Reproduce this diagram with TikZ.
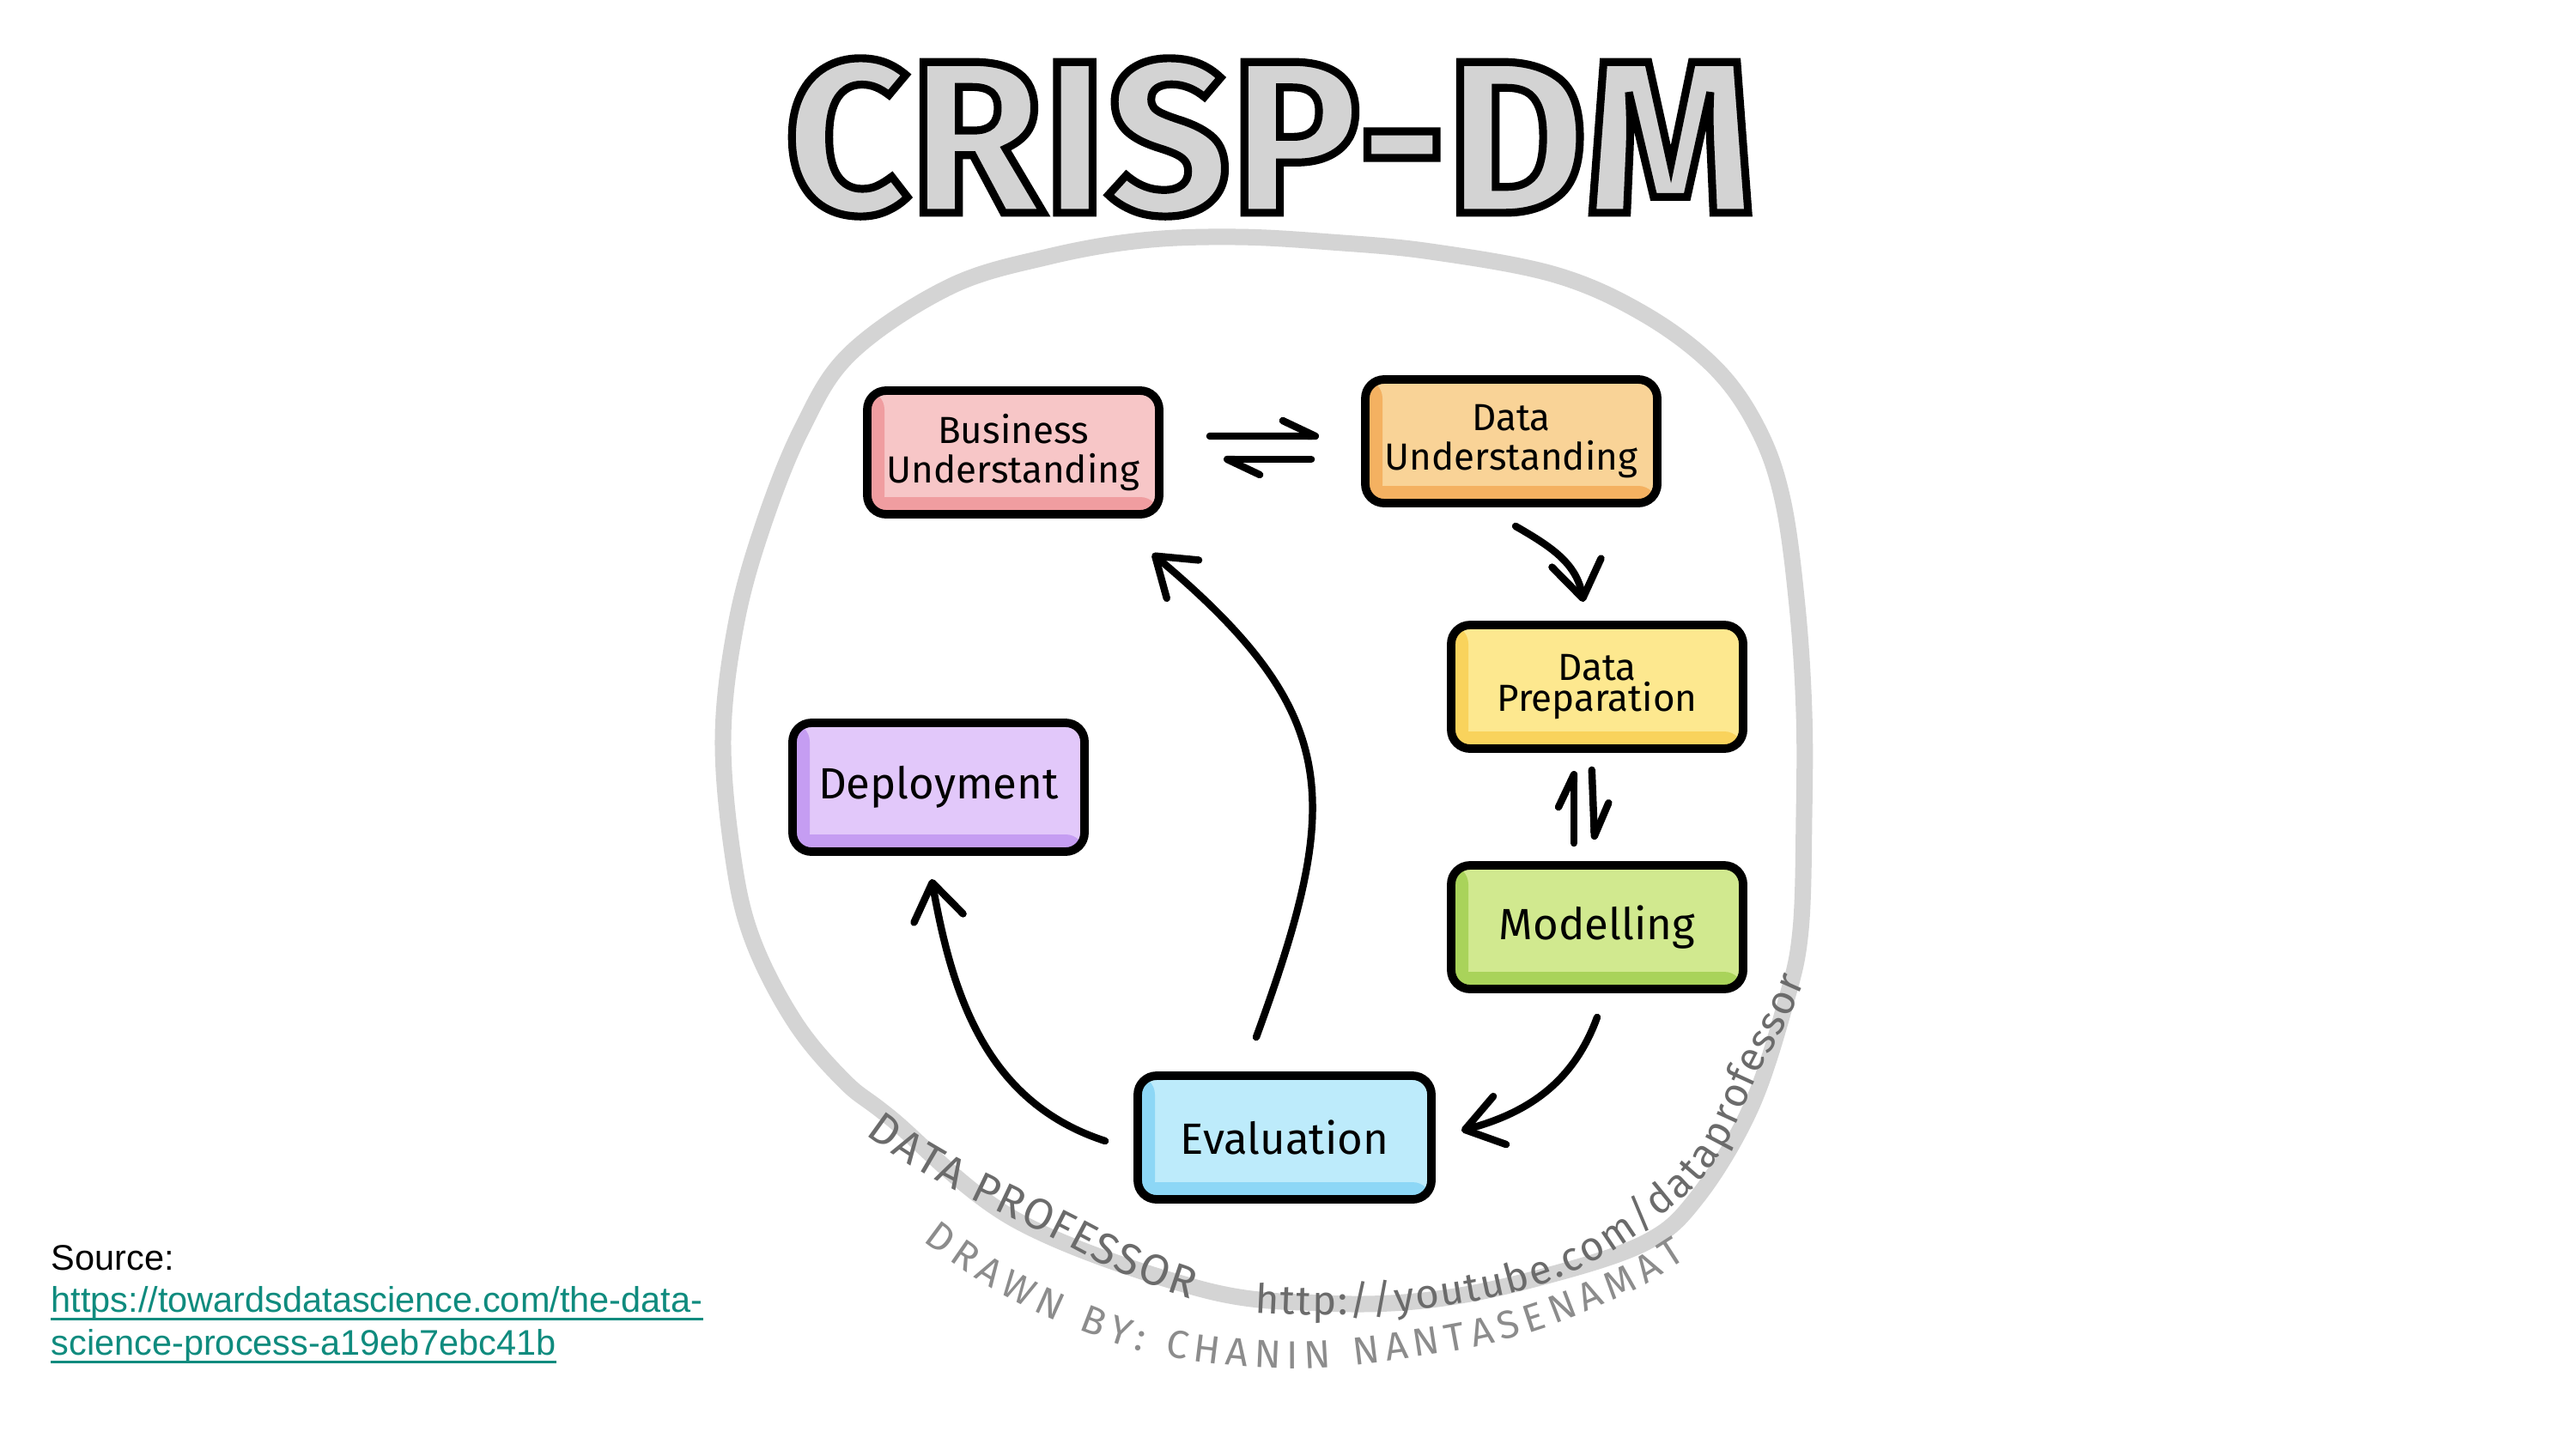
\documentclass[tikz,border=0pt]{standalone}
\usepackage{fontspec}
\usepackage{graphicx}
\setmainfont{Fira Sans}
\newfontfamily\titlefont{Fira Sans}
\newfontfamily\srcfont{Liberation Sans}
\usetikzlibrary{arrows.meta,decorations.text}
\newcommand{\outlined}[1]{\special{pdf:literal direct 0 0 0 RG 2.6 w 2 Tr}#1\special{pdf:literal direct 0 Tr}}

\definecolor{ringgray}{HTML}{D4D4D4}
\definecolor{titlegray}{HTML}{D3D3D3}
\definecolor{inkgray}{HTML}{6B6B6B}
\definecolor{lightink}{HTML}{8C8C8C}
\definecolor{linkteal}{HTML}{0F8B7E}
\definecolor{bupink}{HTML}{F7C6C7}
\definecolor{bushade}{HTML}{F09DA0}
\definecolor{duorange}{HTML}{F9D397}
\definecolor{dushade}{HTML}{F4B161}
\definecolor{dpyellow}{HTML}{FDE88F}
\definecolor{dpshade}{HTML}{F9D35C}
\definecolor{mogreen}{HTML}{D1E98F}
\definecolor{moshade}{HTML}{A9D35A}
\definecolor{evblue}{HTML}{BDEBFB}
\definecolor{evshade}{HTML}{8DD7F6}
\definecolor{depurple}{HTML}{E2C8FA}
\definecolor{deshade}{HTML}{C59DF2}

\begin{document}
\begin{tikzpicture}[
  stage/.style 2 args={draw,line width=2.8pt,rounded corners=0.22cm,fill=#1,
    minimum width=3.4cm,minimum height=1.44cm,align=center,inner sep=0pt,
    font=\fontsize{12.5}{13}\selectfont,
    path picture={
      \fill[#2] (path picture bounding box.south west) rectangle ([xshift=0.2cm]path picture bounding box.north west);
      \fill[#2] (path picture bounding box.south west) rectangle ([yshift=0.2cm]path picture bounding box.south east);}},
  big/.style={font=\fontsize{14.5}{15}\selectfont},
  flow/.style={-{Straight Barb[length=0.42cm,width=0.58cm,round]},line width=2.4pt,line cap=round},
  harp/.style={-{Straight Barb[harpoon,length=0.38cm,width=0.36cm,round]},line width=2.4pt,line cap=round},
  ring/.style={draw=ringgray,line width=0.19cm},
  srctext/.style={inner sep=0pt,anchor=base west,font=\srcfont\fontsize{11.8}{14}\selectfont},
]
  \path[use as bounding box,fill=white] (0,0) rectangle (30,-16.88);

  \draw[ring] plot[smooth cycle,tension=0.6] coordinates {
    (13.30,-2.80) (14.40,-2.76) (15.50,-2.82) (16.66,-2.93) (18.11,-3.20) (19.15,-3.66) (19.97,-4.28)
    (20.47,-4.99) (20.76,-5.82) (20.93,-7.06) (21.01,-8.30) (21.01,-9.50) (20.97,-10.83)
    (20.80,-11.66) (20.39,-12.90) (19.77,-13.94) (19.15,-14.48) (17.90,-14.89) (16.66,-15.14)
    (15.41,-15.18) (13.97,-15.01) (11.83,-14.21) (10.37,-13.02) (9.84,-12.60) (9.26,-11.91)
    (8.77,-10.96) (8.54,-10.00) (8.42,-8.60) (8.57,-7.28) (8.88,-6.14) (9.34,-4.99)
    (9.91,-4.11) (11.06,-3.34) (12.21,-2.99)};

  \path[decorate,decoration={text along path,text align={fit to path},raise=-0.17cm,text color=inkgray,
      text={|\fontsize{14.5}{15}\selectfont|DATA PROFESSOR}}]
    (10.18,-13.08) to[out=-37,in=152] (12.59,-14.40) to[out=-28,in=162] (13.92,-14.97);
  \path[decorate,decoration={text along path,text align={fit to path},raise=-0.14cm,text color=inkgray,
      text={|\fontsize{13.5}{14}\selectfont|http://youtube.com/dataprofessor}}]
    (14.62,-15.15) to[out=-3,in=190] (17.14,-15.02) to[out=10,in=220] (19.47,-13.88)
      to[out=40,in=238] (20.56,-12.07) to[out=58,in=245] (20.89,-11.37);
  \path[decorate,decoration={text along path,text align={fit to path},raise=-0.17cm,text color=lightink,
      text={|\fontsize{13}{13}\selectfont|DRAWN BY: CHANIN NANTASENAMAT}}]
    (10.85,-14.32) to[out=-37,in=158] (12.59,-15.32) to[out=-22,in=174] (14.30,-15.73)
      to[out=-6,in=188] (16.45,-15.64) to[out=8,in=205] (18.94,-14.89) to[out=25,in=211] (19.55,-14.52);

  \node[inner sep=0pt] (title) at (14.79,-1.60)
    {\resizebox{11.3cm}{1.8cm}{\textcolor{titlegray}{\titlefont\bfseries\fontsize{72}{72}\selectfont\outlined{CRISP-DM}}}};

  \node[stage={bupink}{bushade}] (bu) at (11.80,-5.27) {Business\\Understanding};
  \node[stage={duorange}{dushade}] (du) at (17.60,-5.14) {Data\\Understanding};
  \node[stage={dpyellow}{dpshade}] (dp) at (18.60,-8.00) {Data\\[-3pt]Preparation};
  \node[stage={mogreen}{moshade},big] (mo) at (18.60,-10.80) {Modelling};
  \node[stage={evblue}{evshade},big,minimum width=3.42cm] (ev) at (14.96,-13.25) {Evaluation};
  \node[stage={depurple}{deshade},big,minimum height=1.5cm] (de) at (10.93,-9.17) {Deployment};

  \draw[harp,shorten <=0.54cm,shorten >=0.49cm] ([yshift=0.19cm]bu.east) -- ([yshift=0.06cm]du.west);
  \draw[harp,shorten <=0.58cm,shorten >=0.70cm] ([yshift=-0.21cm]du.west) -- ([yshift=-0.08cm]bu.east);
  \draw[flow] ([xshift=0.05cm,yshift=-0.22cm]du.south) to[out=-30,in=100] ([xshift=-0.16cm,yshift=0.22cm]dp.north);
  \draw[harp,shorten <=0.21cm,shorten >=0.21cm] ([xshift=-0.27cm]mo.north) -- ([xshift=-0.27cm]dp.south);
  \draw[harp,shorten <=0.20cm,shorten >=0.25cm] ([xshift=-0.07cm]dp.south) -- ([xshift=-0.02cm]mo.north);
  \draw[flow] ([yshift=-0.28cm]mo.south) to[out=-110,in=15] ([xshift=0.30cm,yshift=0.08cm]ev.east);
  \draw[flow] ([xshift=-0.33cm,yshift=-0.04cm]ev.west) to[out=162,in=-80] ([xshift=-0.08cm,yshift=-0.27cm]de.south);
  \draw[flow,looseness=1.3] ([xshift=-0.33cm,yshift=0.40cm]ev.north) to[out=70,in=-40] ([xshift=1.62cm,yshift=-0.41cm]bu.south);

  \node[srctext] (src) at (0.59,-14.79) {Source:};
  \node[srctext,text=linkteal] (lnka) at (0.59,-15.28) {https://towardsdatascience.com/the-data-};
  \node[srctext,text=linkteal] (lnkb) at (0.59,-15.78) {science-process-a19eb7ebc41b};
  \draw[linkteal,line width=0.85pt] ([yshift=-0.08cm]lnka.base west) -- ([yshift=-0.08cm]lnka.base east);
  \draw[linkteal,line width=0.85pt] ([yshift=-0.08cm]lnkb.base west) -- ([yshift=-0.08cm]lnkb.base east);
\end{tikzpicture}
\end{document}
